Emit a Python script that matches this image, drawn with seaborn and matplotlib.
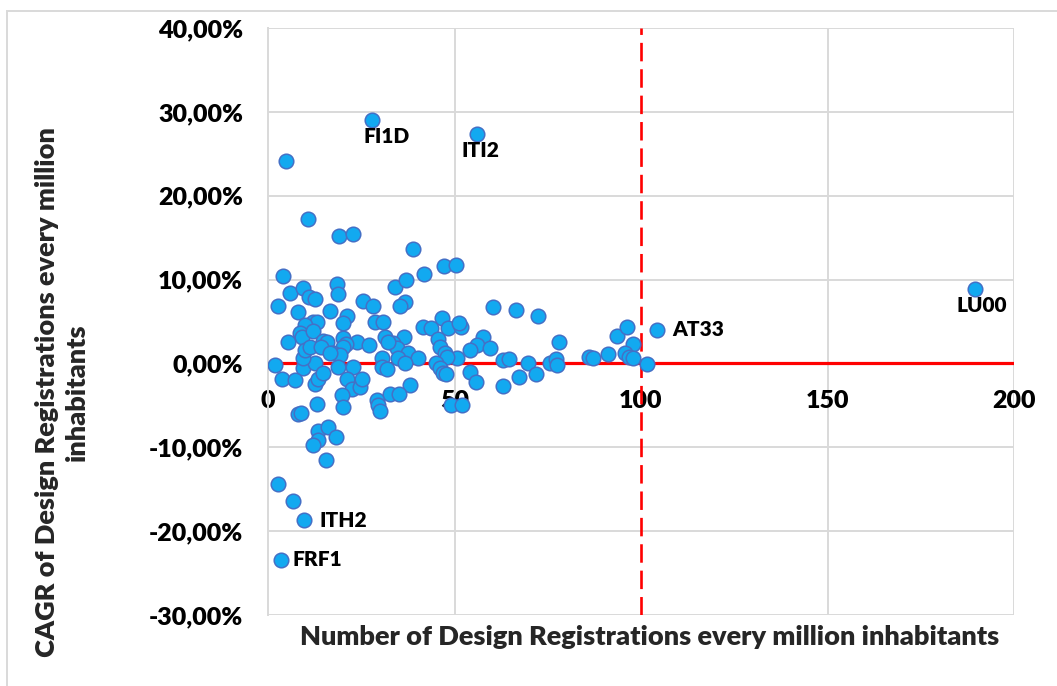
import matplotlib
matplotlib.use("Agg")
import matplotlib.pyplot as plt
import matplotlib.patches as mpatches
from matplotlib.ticker import FuncFormatter
import seaborn as sns
import pandas as pd

# Design registrations per million inhabitants (x) and their CAGR in % (y)
regions = ["FI1D", "ITI2", "LU00", "AT33", "ITH2", "FRF1"]
labelled_x = [27.9, 56.0, 189.5, 104.2, 9.7, 3.5]
labelled_y = [29.0, 27.4, 8.9, 4.0, -18.7, -23.4]

other_x = [
    4.8, 10.7, 19.0, 22.8, 38.9, 41.8, 47.2, 50.4, 34.0, 37.0,
    36.7, 35.4, 60.3, 66.5, 72.4, 46.6, 41.6, 43.7, 48.3, 51.7,
    51.2, 36.5, 45.6, 57.6, 56.0, 59.5, 54.2, 46.1, 47.5, 33.5,
    34.6, 37.5, 40.2, 34.9, 36.7, 50.7, 48.0, 45.0, 46.1, 46.9,
    47.7, 54.2, 55.8, 63.0, 64.6, 69.7, 67.3, 71.8, 63.0, 38.1,
    75.6, 77.2, 77.5, 78.0, 86.1, 87.1, 91.2, 93.6, 96.2, 97.9,
    95.7, 96.8, 97.9, 101.6, 4.0, 18.5, 18.8, 5.9, 9.4, 11.0,
    12.6, 2.7, 8.0, 16.6, 21.2, 20.1, 25.5, 28.2, 12.1, 13.1,
    10.0, 8.6, 9.1, 12.1, 5.4, 14.8, 15.8, 20.1, 23.9, 27.1,
    31.4, 32.2, 28.7, 30.8, 20.8, 20.1, 17.4, 19.3, 30.6, 1.9,
    9.4, 12.6, 18.8, 22.8, 30.6, 31.9, 9.4, 9.9, 11.3, 14.2,
    16.6, 3.8, 7.2, 12.6, 13.4, 14.8, 21.2, 22.5, 24.7, 25.2,
    19.8, 20.1, 13.1, 8.0, 8.8, 29.2, 29.5, 30.0, 32.7, 35.1,
    49.0, 52.0, 13.4, 16.1, 18.2, 13.4, 12.1, 15.5, 2.7, 6.7,
]
other_y = [
    24.1, 17.2, 15.2, 15.4, 13.7, 10.7, 11.6, 11.7, 9.1, 10.0,
    7.3, 6.9, 6.7, 6.4, 5.7, 5.4, 4.3, 4.2, 4.2, 4.4,
    4.8, 3.2, 2.9, 3.1, 2.2, 1.8, 1.6, 1.9, 1.2, 2.4,
    1.8, 1.2, 0.7, 0.7, 0.1, 0.7, 0.8, 0.1, -0.5, -1.1,
    -1.3, -1.0, -2.2, 0.4, 0.5, 0.1, -1.6, -1.3, -2.7, -2.6,
    0.0, 0.5, -0.2, 2.5, 0.8, 0.6, 1.1, 3.3, 4.3, 2.3,
    1.2, 0.8, 0.7, -0.1, 10.4, 9.5, 8.3, 8.4, 9.0, 7.9,
    7.7, 6.8, 6.1, 6.2, 5.6, 4.8, 7.4, 6.9, 5.0, 4.9,
    4.6, 3.6, 3.1, 3.9, 2.5, 2.7, 2.5, 3.0, 2.5, 2.2,
    3.1, 2.6, 4.9, 4.9, 2.3, 1.9, 1.3, 1.0, 0.6, -0.2,
    -0.6, 0.0, -0.4, -0.4, -0.4, -0.7, 0.7, 1.6, 1.9, 1.9,
    1.2, -1.9, -2.0, -2.4, -1.9, -1.2, -1.9, -3.0, -2.8, -1.8,
    -3.8, -5.2, -4.8, -6.0, -5.9, -4.4, -5.0, -5.7, -3.7, -3.6,
    -4.9, -5.0, -8.0, -7.6, -8.8, -9.1, -9.7, -11.5, -14.4, -16.4,
]

x_ticks = [0, 50, 100, 150, 200]
y_ticks = [-30, -20, -10, 0, 10, 20, 30, 40]
threshold_x = 100

df = pd.DataFrame({
    "registrations": other_x + labelled_x,
    "cagr": other_y + labelled_y,
})

sns.set_theme(style="white")
plt.rcParams["font.family"] = ["Lato", "DejaVu Sans"]
WEIGHT = "heavy"

W, H = 1057, 686
fig = plt.figure(figsize=(W / 100, H / 100), dpi=100)
ax = fig.add_axes([268 / W, 1 - 615 / H, (1014 - 268) / W, (615 - 28) / H])

grid_c = "#D9D9D9"
for yv in y_ticks:
    ax.axhline(yv, color=grid_c, lw=1.4, zorder=0)
for xv in x_ticks[1:]:
    if xv != threshold_x:
        ax.axvline(xv, color=grid_c, lw=1.4, zorder=0)

ax.axhline(0, color="#FF0000", lw=2.3, zorder=1)
ax.axvline(threshold_x, color="#FF0000", lw=1.9, zorder=1, dashes=(7, 3))

sns.scatterplot(data=df, x="registrations", y="cagr", ax=ax, s=110,
                color="#12A9F0", edgecolor="#4470C6", linewidth=1.1,
                zorder=3, legend=False)

ax.set_xlim(0, 200)
ax.set_ylim(-30, 40)
ax.set_xticks(x_ticks)
ax.set_yticks(y_ticks)
ax.yaxis.set_major_formatter(FuncFormatter(lambda v, p: f"{v:.2f}%".replace(".", ",")))
ax.xaxis.set_major_formatter(FuncFormatter(lambda v, p: f"{int(v)}"))

for s in ["top", "right"]:
    ax.spines[s].set_visible(False)
ax.spines["left"].set_color(grid_c)
ax.spines["left"].set_linewidth(1.4)
ax.spines["bottom"].set_position(("data", 0))
ax.spines["bottom"].set_visible(False)
ax.tick_params(axis="x", length=0, pad=19, labelsize=18, labelcolor="black")
ax.tick_params(axis="y", length=0, pad=18, labelsize=18, labelcolor="black")
for t in ax.get_xticklabels() + ax.get_yticklabels():
    t.set_fontweight(WEIGHT)
    t.set_zorder(5)

ax.set_xlabel("")
ax.set_ylabel("")

# label placement: (x offset in points, y offset in points, ha, va)
offsets = {
    "FI1D": (10.5, -5, "center", "top"),
    "ITI2": (2.5, -5, "center", "top"),
    "LU00": (5, -5, "center", "top"),
    "AT33": (11, 0, "left", "center"),
    "ITH2": (11, 0, "left", "center"),
    "FRF1": (8, 0, "left", "center"),
}
for name, xv, yv in zip(regions, labelled_x, labelled_y):
    dx, dy, ha, va = offsets[name]
    ax.annotate(name, (xv, yv), xytext=(dx, dy), textcoords="offset points",
                ha=ha, va=va, fontsize=15, fontweight=WEIGHT, color="black", zorder=6)

fig.text(650 / W, 1 - 637 / H, "Number of Design Registrations every million inhabitants",
         ha="center", va="center", fontsize=19.5, fontweight=WEIGHT)
fig.text(62 / W, 1 - 392 / H, "CAGR of Design Registrations every million\ninhabitants",
         ha="center", va="center", rotation=90, fontsize=19.5, fontweight=WEIGHT,
         multialignment="center", linespacing=1.3)

fig.patches.append(mpatches.Rectangle((7 / W, -0.1), 1.2, 1 - 11 / H + 0.1,
                                      transform=fig.transFigure, fill=False,
                                      edgecolor="#D9D9D9", lw=1.4))

fig.savefig("out.png", dpi=100, facecolor="white")
